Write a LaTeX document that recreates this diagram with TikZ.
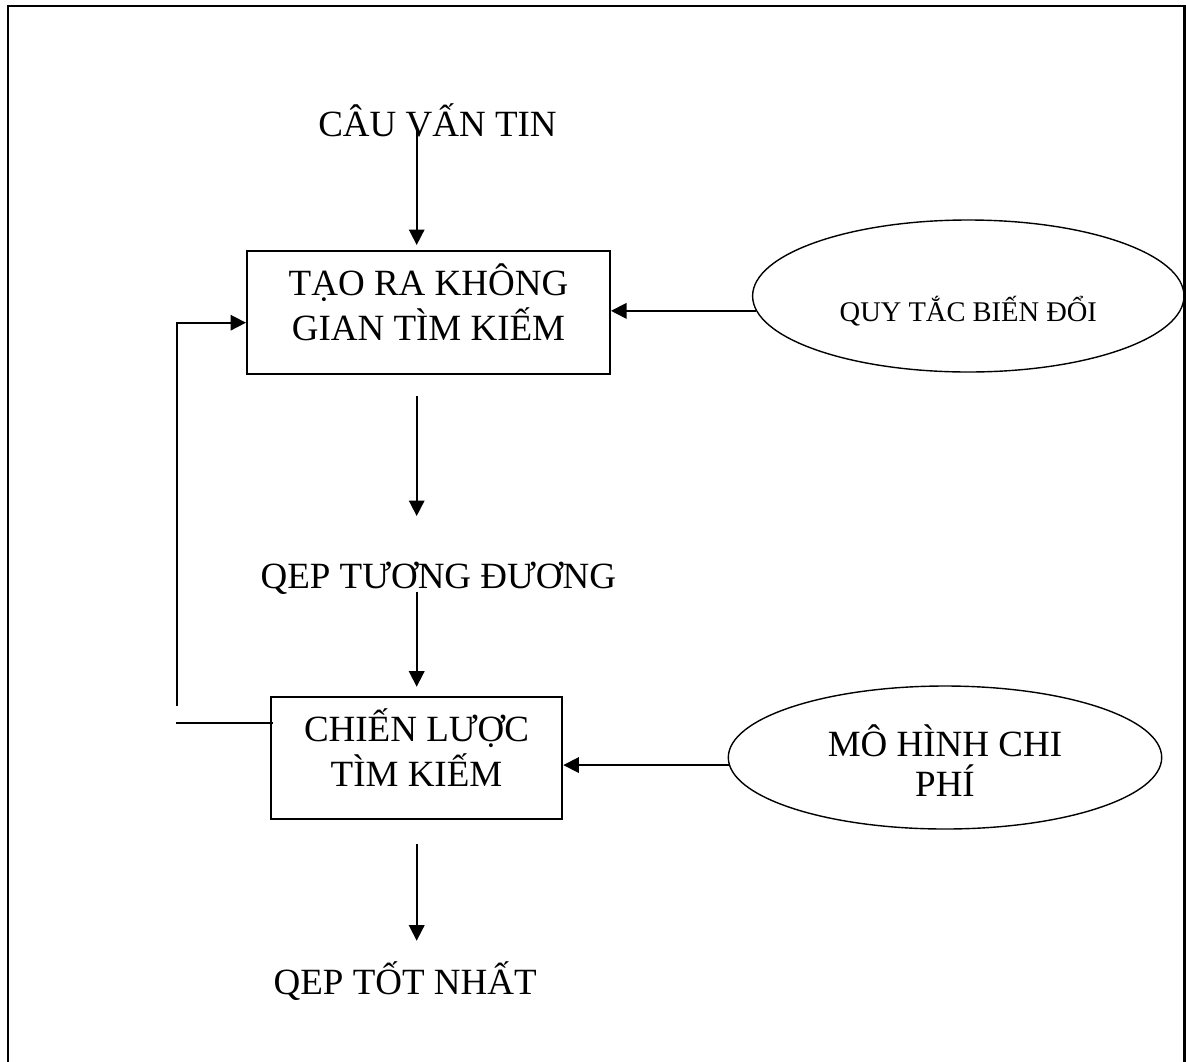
\documentclass[tikz,border=0pt]{standalone}
\usepackage{fontspec}
\setmainfont{Liberation Serif}
\usetikzlibrary{arrows.meta,shapes.geometric}
\newcommand\bigf{\fontsize{37}{45}\selectfont}
\newcommand\elf{\fontsize{37}{40}\selectfont}
\newcommand\smf{\fontsize{28.5}{34}\selectfont}
\newcommand\twolines[2]{\vtop{\halign{\hfil##\hfil\cr#1\cr#2\cr}}}
\begin{document}
\begin{tikzpicture}[x=1pt,y=-1pt,
  arr/.style={line width=1.7pt,-{Triangle[length=15.5pt,width=15.5pt]}},
  ln/.style={line width=1.7pt},
  box/.style={draw,line width=2pt,rectangle,inner sep=0pt,font=\bigf},
  ell/.style={draw,line width=1.4pt,ellipse,inner sep=0pt},
  lbl/.style={font=\bigf,inner sep=0pt,anchor=base}]
\useasboundingbox (0,0) rectangle (1186,1061);
\fill[white] (0,0) rectangle (1186,1061);

% nodes
\node[lbl] (q) at (437.5,136.7) {CÂU VẤN TIN};
\node[box,minimum width=363pt,minimum height=123pt,text height=20pt,text depth=55pt]
  (b1) at (428.5,312.5) {\twolines{TẠO RA KHÔNG}{GIAN TÌM KIẾM}};
\node[lbl] (qe) at (438.3,588.3) {QEP TƯƠNG ĐƯƠNG};
\node[box,minimum width=291.6pt,minimum height=122pt,text height=20pt,text depth=52pt]
  (b2) at (416.5,757.7) {\twolines{CHIẾN LƯỢC}{TÌM KIẾM}};
\node[lbl] (qb) at (405.2,994) {QEP TỐT NHẤT};
\node[ell,font=\smf,minimum width=431.4pt,minimum height=152pt,text height=51.4pt,text depth=0pt]
  (e1) at (968.3,296) {QUY TẮC BIẾN ĐỔI};
\node[ell,font=\elf,minimum width=433.4pt,minimum height=143pt,text height=20pt,text depth=21.6pt]
  (e2) at (945,757.5) {\twolines{MÔ HÌNH CHI}{PHÍ}};

% outer frame
\draw[line width=2.4pt] (7.7,1063) -- (7.7,6) -- (1184.5,6) -- (1184.5,1063);

% helper coordinates
\coordinate (ax) at (416.7,0);
\coordinate (s1) at (416.7,130);
\coordinate (t2) at (416.7,516);
\coordinate (s3) at (416.7,591.7);
\coordinate (t4) at (416.7,940.7);
\coordinate (lv) at (176.7,706);
\coordinate (lh) at (176,723);

% connectors
\draw[arr,shorten >=5pt] (s1) -- (s1 |- b1.north);
\draw[arr,shorten <=21pt] (b1.south -| ax) -- (t2);
\draw[arr,shorten >=9pt] (s3) -- (s3 |- b2.north);
\draw[arr,shorten <=24.3pt] (b2.south -| ax) -- (t4);
\draw[arr] (lv) |- ([yshift=-10.2pt]b1.west);
\draw[ln,shorten >=-3.5pt] (lh) -- (lh -| b2.west);
\draw[arr] (e1.184.4) -- (e1.184.4 -| b1.east);
\draw[arr] (e2.182) -- (e2.182 -| b2.east);
\end{tikzpicture}
\end{document}
